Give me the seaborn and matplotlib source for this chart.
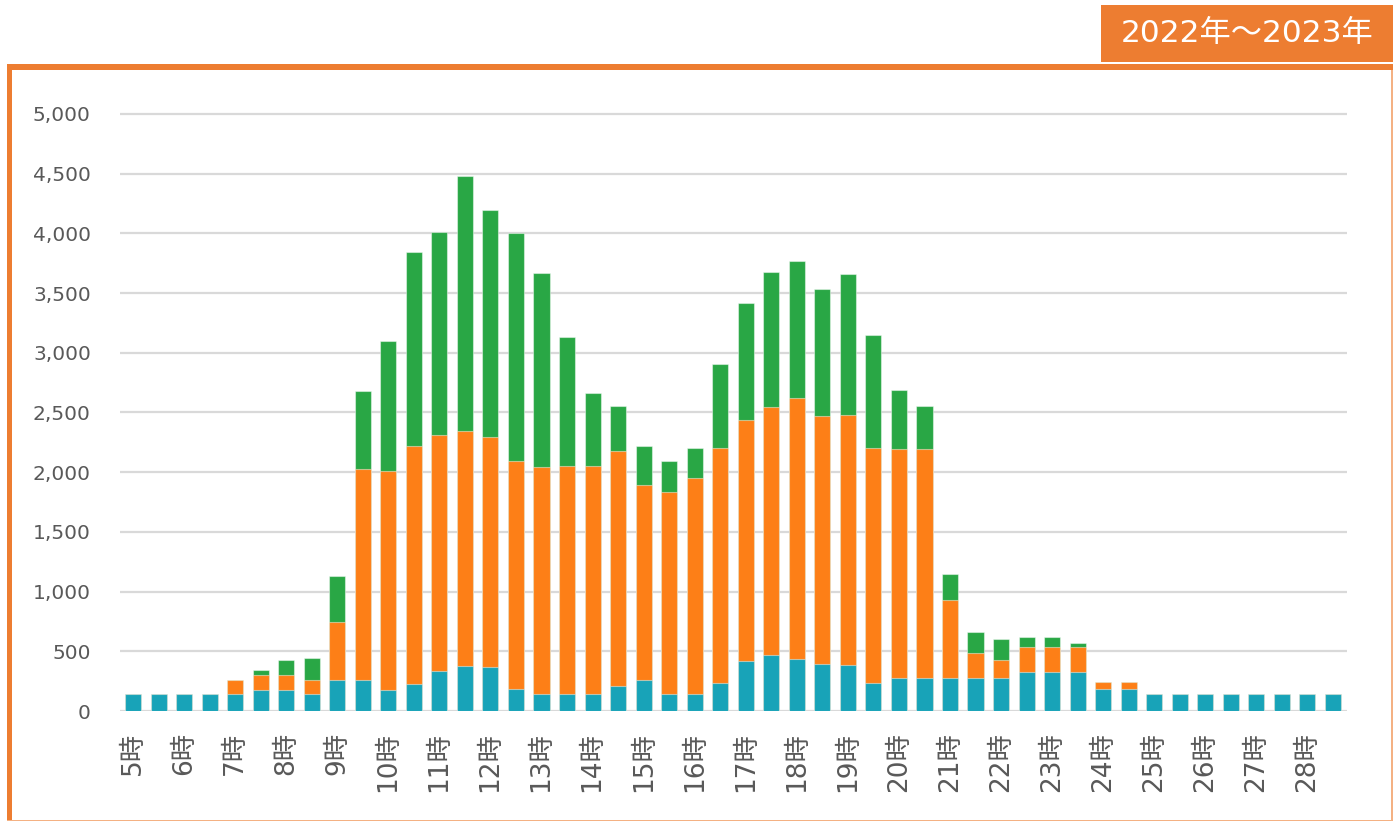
import matplotlib
matplotlib.use("Agg")
import matplotlib.pyplot as plt
import seaborn as sns
import pandas as pd
import numpy as np
from matplotlib.patches import Rectangle

# ---- data (half-hour slots, 5:00 .. 28:30) ----
slots = [f"{h}:{m:02d}" for h in range(5, 29) for m in (0, 30)]
hour_labels = [f"{h}時" for h in range(5, 29)]

teal = [140, 140, 140, 140, 140, 176, 176, 140, 260, 260, 179, 224, 338, 377, 365, 185,
        141, 144, 144, 209, 260, 142, 142, 237, 421, 468, 438, 396, 382, 234, 279, 279,
        279, 279, 279, 330, 330, 330, 184, 184, 140, 140, 140, 140, 140, 140, 140, 140]
orange = [0, 0, 0, 0, 120, 123, 123, 120, 486, 1770, 1831, 1992, 1971, 1970, 1929, 1908,
          1904, 1904, 1904, 1968, 1636, 1693, 1810, 1969, 2019, 2081, 2186, 2075, 2100, 1972, 1913, 1913,
          651, 204, 146, 204, 204, 204, 59, 59, 0, 0, 0, 0, 0, 0, 0, 0]
green = [0, 0, 0, 0, 0, 42, 131, 181, 385, 649, 1085, 1630, 1704, 2130, 1905, 1908,
         1621, 1083, 616, 374, 325, 259, 251, 702, 979, 1124, 1143, 1065, 1174, 942, 493, 359,
         216, 177, 176, 86, 86, 33, 0, 0, 0, 0, 0, 0, 0, 0, 0, 0]

title_text = "2022年～2023年"
yticks = [0, 500, 1000, 1500, 2000, 2500, 3000, 3500, 4000, 4500, 5000]

df = pd.DataFrame({"slot": slots, "teal": teal, "orange": orange, "green": green})
df["lvl1"] = df["teal"]
df["lvl2"] = df["teal"] + df["orange"]
df["lvl3"] = df["lvl2"] + df["green"]

C_TEAL = "#18A3B8"
C_ORANGE = "#FD7F17"
C_GREEN = "#29A745"
FRAME = "#ED7D31"

sns.set_theme(style="white")
plt.rcParams["font.family"] = ["DejaVu Sans", "Noto Sans CJK JP"]

W, H = 1393, 821
fig = plt.figure(figsize=(W / 100, H / 100), dpi=100)
fig.patch.set_facecolor("white")

ax = fig.add_axes([120 / W, 1 - 711 / H, (1347 - 120) / W, (711 - 102) / H])

edge = (1, 1, 1, 0.45)
for col, c in (("lvl3", C_GREEN), ("lvl2", C_ORANGE), ("lvl1", C_TEAL)):
    sns.barplot(data=df, x="slot", y=col, order=slots, color=c, width=0.63,
                saturation=1, edgecolor=edge, linewidth=0.8, ax=ax, zorder=3)

ax.set_xlim(-0.51, 47.55)
ax.set_ylim(0, 5100)
ax.set_yticks(yticks)
ax.set_yticklabels([f"{v:,}" for v in yticks], fontsize=14.5, color="#595959")
ax.set_xticks(range(0, 48, 2))
ax.set_xticklabels(hour_labels, rotation=90, fontsize=19, color="#595959", va="top")
ax.tick_params(axis="both", length=0)
ax.tick_params(axis="y", pad=21)
ax.tick_params(axis="x", pad=15)
ax.set_xlabel("")
ax.set_ylabel("")
for s in ax.spines.values():
    s.set_visible(False)
ax.yaxis.grid(True, color="#D9D9D9", linewidth=1.6, zorder=0)
ax.set_axisbelow(True)

# frame
fig.add_artist(Rectangle((7 / W, 0), 5 / W, 1 - 65 / H, transform=fig.transFigure,
                         facecolor=FRAME, edgecolor="none"))
fig.add_artist(Rectangle((7 / W, 1 - 70 / H), (W - 7) / W, 5.5 / H, transform=fig.transFigure,
                         facecolor=FRAME, edgecolor="none"))
fig.add_artist(Rectangle((1391 / W, 0), 1.5 / W, 1 - 70 / H, transform=fig.transFigure,
                         facecolor="#F4B183", edgecolor="none"))
fig.add_artist(Rectangle((7 / W, 0), (W - 7) / W, 1.5 / H, transform=fig.transFigure,
                         facecolor="#F4B183", edgecolor="none"))
# title box
fig.add_artist(Rectangle((1101 / W, 1 - 62 / H), (W - 1101) / W, 57 / H, transform=fig.transFigure,
                         facecolor=FRAME, edgecolor="none"))
fig.text((1101 + W) / 2 / W, 1 - 33.5 / H, title_text, color="white", fontsize=22.5,
         ha="center", va="center", family=["DejaVu Sans", "Noto Sans CJK JP"])

fig.savefig("out.png", dpi=100, facecolor="white")
